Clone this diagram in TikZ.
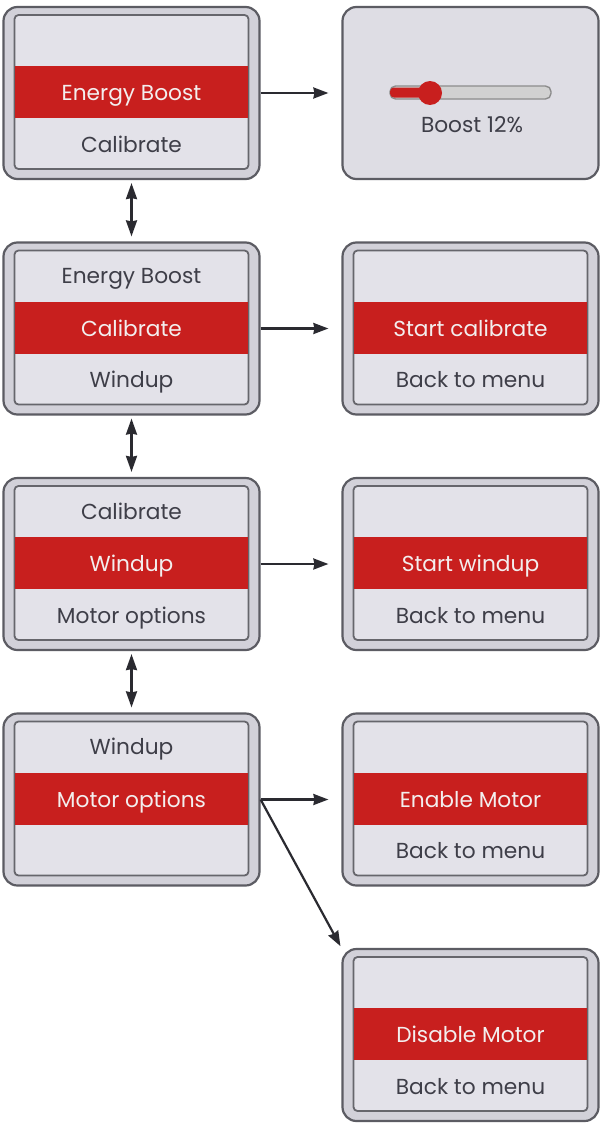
\documentclass[tikz,border=0pt]{standalone}
\usepackage{fontspec}
\setmainfont{Poppins}
\usetikzlibrary{arrows.meta}
\definecolor{frameout}{HTML}{D2D1D9}
\definecolor{framein}{HTML}{E3E2E9}
\definecolor{edge}{HTML}{5C5C63}
\definecolor{edgein}{HTML}{66666C}
\definecolor{hired}{HTML}{C81F1E}
\definecolor{txt}{HTML}{3E3E48}
\definecolor{wtxt}{HTML}{F3EEEE}
\definecolor{arr}{HTML}{2A2A30}
\tikzset{
  outerbox/.style={draw=edge, line width=2.2pt, fill=frameout, rounded corners=14pt, minimum width=256pt, minimum height=172pt, inner sep=0pt},
  innerbox/.style={draw=edgein, line width=1.8pt, fill=framein, rounded corners=4pt, minimum width=234pt, minimum height=154pt, inner sep=0pt},
  band/.style={fill=hired, minimum width=233pt, minimum height=52pt, inner sep=0pt},
  gtxt/.style={text=txt, font=\fontsize{21.7}{24}\selectfont, anchor=base, inner sep=0pt},
  wt/.style={text=wtxt, font=\fontsize{21.7}{24}\selectfont, anchor=base, inner sep=0pt},
  link/.style={draw=arr, line width=2.2pt, -{Stealth[length=15pt,width=11pt,inset=1pt]}},
  dlink/.style={draw=arr, line width=2.2pt, {Stealth[length=16pt,width=11pt,inset=1pt]}-{Stealth[length=16pt,width=11pt,inset=1pt]}}
}
\newcommand{\screen}[6]{%
  \node[outerbox] (#1) at (#2,#3) {};
  \node[innerbox] (#1in) at (#2,#3-1) {};
  \node[band] (#1b) at (#2,#3-1) {};
  \node[gtxt] (#1t) at (#2,#3-45) {#4};
  \node[wt] (#1m) at (#2,#3+7.5) {#5};
  \node[gtxt] (#1s) at (#2,#3+59) {#6};
}
\begin{document}
\begin{tikzpicture}[x=1pt,y=-1pt]
\useasboundingbox[fill=white] (0,0) rectangle (605,1124);
% left column
\screen{La}{131.5}{93}{}{Energy Boost}{Calibrate}
\screen{Lb}{131.5}{328.5}{Energy Boost}{Calibrate}{Windup}
\screen{Lc}{131.5}{564}{Calibrate}{Windup}{Motor options}
\screen{Ld}{131.5}{799.5}{Windup}{Motor options}{}
% right column
\node[outerbox, fill=framein!70!frameout] (Ra) at (470.5,93) {};
\draw[draw=black!45, fill=black!18, line width=1.4pt, rounded corners=5.5pt] (390,86) rectangle (551,99);
\fill[hired, rounded corners=4pt] (390,87.5) rectangle (432,97.5);
\fill[hired] (430,93) circle (12pt);
\node[gtxt] (Rat) at (472,132.5) {Boost 12\%};
\screen{Rb}{470.5}{328.5}{}{Start calibrate}{Back to menu}
\screen{Rc}{470.5}{564}{}{Start windup}{Back to menu}
\screen{Rd}{470.5}{799.5}{}{Enable Motor}{Back to menu}
\screen{Re}{470.5}{1035}{}{Disable Motor}{Back to menu}
% connectors
\draw[link, shorten >=13pt] (La.east) -- (Ra.west);
\draw[link, shorten >=13pt] (Lb.east) -- (Rb.west);
\draw[link, shorten >=13pt] (Lc.east) -- (Rc.west);
\draw[link, shorten >=13pt] (Ld.east) -- (Rd.west);
\draw[link, shorten >=2pt] (Ld.east) -- (Re.north west);
\draw[dlink, shorten <=3pt, shorten >=5pt] (La.south) -- (Lb.north);
\draw[dlink, shorten <=3pt, shorten >=5pt] (Lb.south) -- (Lc.north);
\draw[dlink, shorten <=3pt, shorten >=5pt] (Lc.south) -- (Ld.north);
\end{tikzpicture}
\end{document}
